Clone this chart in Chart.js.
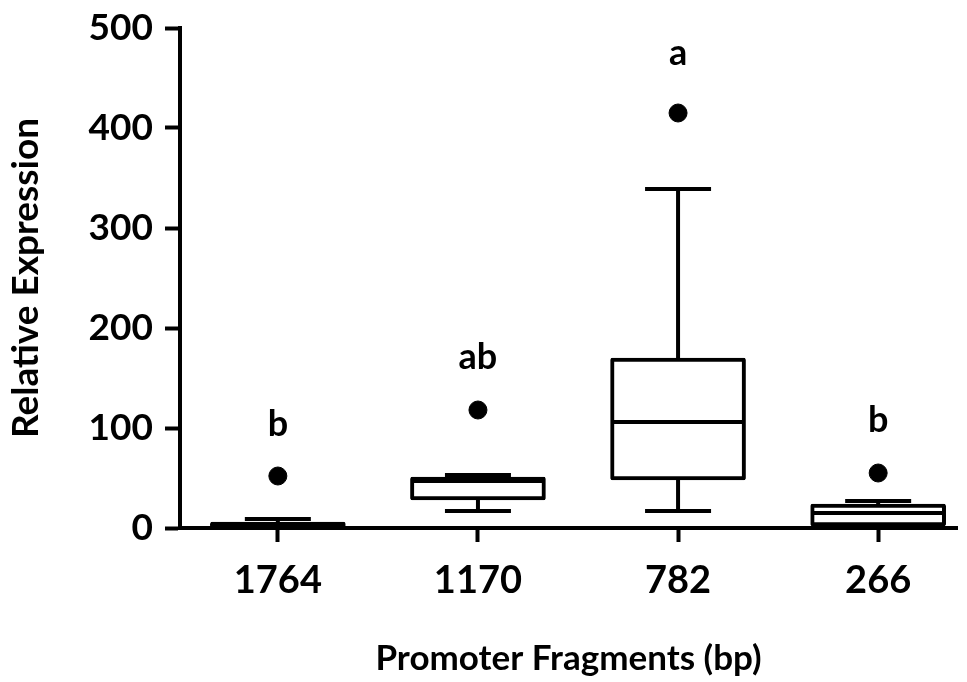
<!DOCTYPE html>
<html>
<head>
<meta charset="utf-8">
<title>Relative Expression by Promoter Fragment</title>
<script src="https://cdn.jsdelivr.net/npm/chart.js@4/dist/chart.umd.min.js"></script>
<style>
  html, body { margin: 0; padding: 0; background: #fff; overflow: hidden; }
  #chart { display: block; }
</style>
</head>
<body>
<canvas id="chart" width="967" height="682"></canvas>
<script>
// Box plot values
const categories  = ['1764', '1170', '782', '266'];
const whiskerLow  = [0, 17, 17, 0];
const q1          = [0, 28, 48, 2];
const medians     = [2, 47, 106, 15];
const q3          = [6, 51, 170, 24];
const whiskerHigh = [9, 53, 339, 27];
const outliers    = [52, 118, 415, 55];
const letters     = ['b', 'ab', 'a', 'b'];
const letterY     = [104, 171, 475, 108];
const yTicks      = [0, 100, 200, 300, 400, 500];

const FONT = 'Lato, "Open Sans", sans-serif';
const INK  = '#000';

// whiskers, caps, medians and group letters, drawn through the chart scales
const boxExtras = {
  id: 'boxExtras',
  afterDatasetsDraw(chart) {
    const { ctx, scales: { x, y } } = chart;
    const boxW = 135, capW = 66;
    ctx.save();
    ctx.strokeStyle = INK;
    ctx.lineWidth = 4;
    ctx.lineCap = 'butt';
    const line = (x0, y0, x1, y1) => {
      ctx.beginPath(); ctx.moveTo(x0, y0); ctx.lineTo(x1, y1); ctx.stroke();
    };
    categories.forEach((c, i) => {
      const cx = x.getPixelForValue(i + 1);
      const yHi = y.getPixelForValue(whiskerHigh[i]);
      const yLo = y.getPixelForValue(whiskerLow[i]);
      // whiskers
      line(cx, y.getPixelForValue(q3[i]), cx, yHi);
      line(cx, y.getPixelForValue(q1[i]), cx, yLo);
      // caps
      line(cx - capW / 2, yHi, cx + capW / 2, yHi);
      line(cx - capW / 2, yLo, cx + capW / 2, yLo);
      // median
      const yMed = y.getPixelForValue(medians[i]);
      line(cx - boxW / 2 + 2, yMed, cx + boxW / 2 - 2, yMed);
    });
    ctx.fillStyle = INK;
    ctx.font = 'bold 36px ' + FONT;
    ctx.textAlign = 'center';
    ctx.textBaseline = 'middle';
    letters.forEach((t, i) => {
      ctx.fillText(t, x.getPixelForValue(i + 1), y.getPixelForValue(letterY[i]));
    });
    ctx.restore();
  }
};

new Chart(document.getElementById('chart'), {
  type: 'bar',
  data: {
    datasets: [
      {
        type: 'bar',
        label: 'IQR',
        data: categories.map((c, i) => ({ x: i + 1, y: [q1[i], q3[i]] })),
        backgroundColor: '#fff',
        borderColor: INK,
        borderWidth: 4,
        borderSkipped: false,
        borderRadius: 2,
        barThickness: 135,
        order: 2
      },
      {
        type: 'scatter',
        label: 'Outliers',
        data: categories.map((c, i) => ({ x: i + 1, y: outliers[i] })),
        backgroundColor: INK,
        borderColor: INK,
        pointRadius: 9,
        pointHoverRadius: 9,
        order: 1
      }
    ]
  },
  options: {
    responsive: false,
    animation: false,
    layout: { padding: { top: 28, right: 0, left: 0, bottom: 0 } },
    plugins: {
      legend: { display: false },
      tooltip: { enabled: false }
    },
    scales: {
      x: {
        type: 'linear',
        offset: false,
        min: 0.511,
        max: 4.394,
        afterBuildTicks: s => { s.ticks = categories.map((c, i) => ({ value: i + 1 })); },
        afterFit: s => { s.height = 154; },
        ticks: {
          callback: v => categories[v - 1] || '',
          color: INK,
          font: { family: FONT, size: 38, weight: 'bold' },
          padding: 16,
          maxRotation: 0
        },
        grid: {
          offset: false,
          drawOnChartArea: false,
          drawTicks: true,
          tickLength: 14,
          tickWidth: 4,
          tickColor: INK
        },
        border: { display: true, color: INK, width: 4 },
        title: {
          display: true,
          text: 'Promoter Fragments (bp)',
          color: INK,
          font: { family: FONT, size: 35, weight: 'bold' },
          padding: { top: 0, bottom: 2 }
        }
      },
      y: {
        min: 0,
        max: 500,
        afterBuildTicks: s => { s.ticks = yTicks.map(v => ({ value: v })); },
        afterFit: s => { s.width = 180; s.paddingTop = 0; s.paddingBottom = 0; },
        ticks: {
          color: INK,
          font: { family: FONT, size: 37, weight: 'bold' },
          padding: 12
        },
        grid: {
          drawOnChartArea: false,
          drawTicks: true,
          tickLength: 15,
          tickWidth: 4,
          tickColor: INK
        },
        border: { display: true, color: INK, width: 4 },
        title: {
          display: true,
          text: 'Relative Expression',
          color: INK,
          font: { family: FONT, size: 37, weight: 'bold' },
          padding: { top: 4, bottom: 0 }
        }
      }
    }
  },
  plugins: [boxExtras]
});
</script>
</body>
</html>
